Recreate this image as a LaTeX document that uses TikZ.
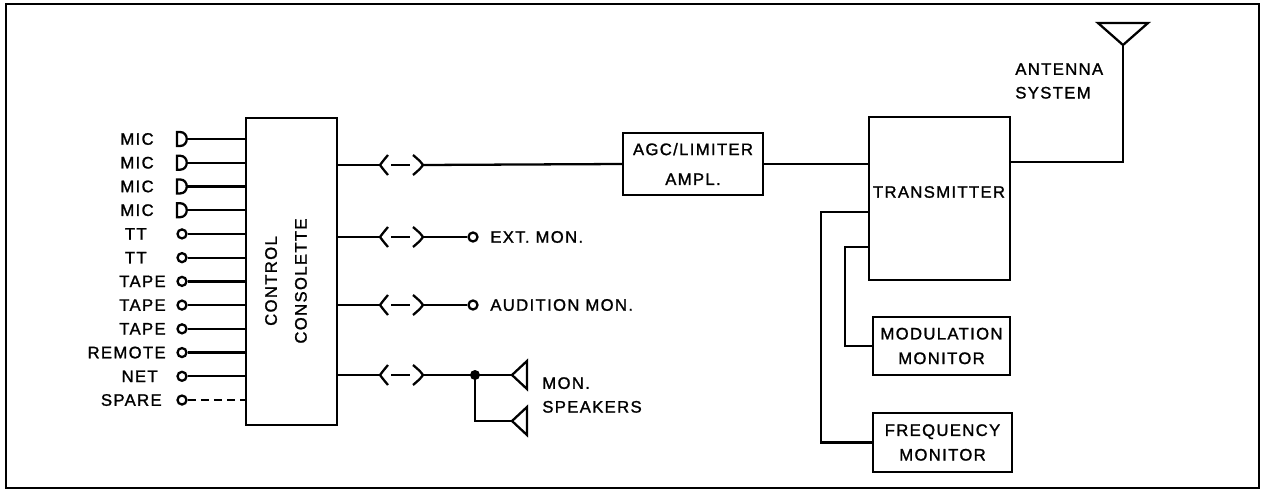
\documentclass[tikz,border=0pt]{standalone}
\usepackage{fontspec}
\setmainfont{Liberation Sans}[LetterSpace=8, FakeBold=1.3]
\usetikzlibrary{calc, positioning}

\tikzset{
    wire/.style={line width=1.3pt},
    blk/.style={draw, line width=1.3pt, align=center, inner sep=0pt,
        font=\fontsize{9.5}{12.5}\selectfont},
    lbl/.style={inner sep=0pt, font=\fontsize{9.5}{12.5}\selectfont},
    jack/.style={circle, draw, line width=1.3pt, minimum size=0.18cm, inner sep=0pt},
    mic/.pic={
        \draw[wire] (0,-7) -- (0,7) -- (3,7) .. controls (12,7) and (12,-7) .. (3,-7) -- cycle;
        \coordinate (-out) at (9.7,0);
    },
    plug/.pic={
        \coordinate (-in) at (0,0);
        \coordinate (-out) at (43,0);
        \draw[wire] (8,-10) .. controls (3,-4) .. (0,0) .. controls (3,4) .. (8,10);
        \draw[line width=1pt] (11,0) -- (30,0);
        \draw[wire] (33,-10) .. controls (40,-4) .. (43,0) .. controls (40,4) .. (33,10);
    },
    spk/.pic={
        \coordinate (-tip) at (0,0);
        \draw[wire] (0,0) -- (15,-14) -- (15,14) -- cycle;
    }
}

\begin{document}
\begin{tikzpicture}[x=0.02cm, y=-0.02cm]
    \useasboundingbox (0,0) rectangle (1262,490);
    \draw[line width=0.8pt] (6,4) rectangle (1259,488);

    % blocks
    \node[blk, minimum width=1.82cm, minimum height=6.14cm] (console) at (291.5,271.5) {};
    \node[lbl, rotate=90, align=center] (consoletext) at (286,281) {CONTROL\\[4.5pt]CONSOLETTE};
    \node[blk, minimum width=2.8cm, minimum height=1.24cm] (agc) at (693,164) {AGC/LIMITER\\[4.5pt]AMPL.};
    \node[blk, minimum width=2.82cm, minimum height=3.26cm] (tx) at (939.5,198.5) {};
    \node[lbl] (txtext) at (939,192) {TRANSMITTER};
    \node[blk, minimum width=2.74cm, minimum height=1.16cm] (modmon) at (941.5,346) {MODULATION\\[1.5pt]MONITOR};
    \node[blk, minimum width=2.78cm, minimum height=1.18cm] (freqmon) at (942.5,442.5) {FREQUENCY\\[1.5pt]MONITOR};

    % inputs
    \foreach \name/\xr [count=\i] in {MIC/154,MIC/154,MIC/154,MIC/154,TT/147,TT/147,
            TAPE/166,TAPE/166,TAPE/166,REMOTE/166,NET/158,SPARE/162} {
        \pgfmathsetmacro\yy{139+23.73*(\i-1)}
        \node[lbl, anchor=east] (lab\i) at (\xr,\yy) {\name};
        \ifnum\i<5
            \pic (src\i) at (177,\yy) {mic};
        \else
            \node[jack] (jk\i) at (182,\yy) {};
            \coordinate (src\i-out) at (jk\i.east);
        \fi
        \ifnum\i=12
            \draw[wire, dash pattern=on 4.5pt off 3pt] (src\i-out) -- (console.west |- src\i-out);
        \else
            \draw[wire] (src\i-out) -- (console.west |- src\i-out);
        \fi
    }

    % outputs
    \foreach \yy [count=\i] in {165,237,305,375} {
        \pic (pl\i) at (380,\yy) {plug};
        \draw[wire] (console.east |- pl\i-in) -- (pl\i-in);
    }
    \draw[wire] (pl1-out) -- (agc.west);
    \draw[wire] (agc.east) -- (tx.west |- agc.east);

    \node[jack] (extjack) at (473,237) {};
    \node[lbl, anchor=west] (extlab) at (490,237) {EXT. MON.};
    \draw[wire] (pl2-out) -- (extjack.west);

    \node[jack] (audjack) at (473,305) {};
    \node[lbl, anchor=west] (audlab) at (490,305) {AUDITION MON.};
    \draw[wire] (pl3-out) -- (audjack.west);

    % monitor speakers
    \node[circle, fill, minimum size=0.2cm, inner sep=0pt] (dot) at (475,375) {};
    \pic (spka) at (512,375) {spk};
    \pic (spkb) at (512,421) {spk};
    \draw[wire] (pl4-out) -- (dot.center) -- (spka-tip);
    \draw[wire] (dot.center) |- (spkb-tip);
    \node[lbl, anchor=west, align=left] (spklab) at (542,395) {MON.\\[1pt]SPEAKERS};

    % antenna
    \coordinate (ant) at (1123,45);
    \draw[wire] (1098,23) -- (1148,23) -- (ant) -- cycle;
    \draw[wire] (tx.east |- 0,162) -| (ant);
    \node[lbl, anchor=west, align=left] (antlab) at (1015,81) {ANTENNA\\[1pt]SYSTEM};

    % monitor feeds
    \coordinate (fqtap) at (tx.west |- 0,212);
    \coordinate (mdtap) at (tx.west |- 0,247);
    \draw[wire] (fqtap) -- ++(-47,0) |- (freqmon.west);
    \draw[wire] (mdtap) -- ++(-23,0) |- (modmon.west);
\end{tikzpicture}
\end{document}
